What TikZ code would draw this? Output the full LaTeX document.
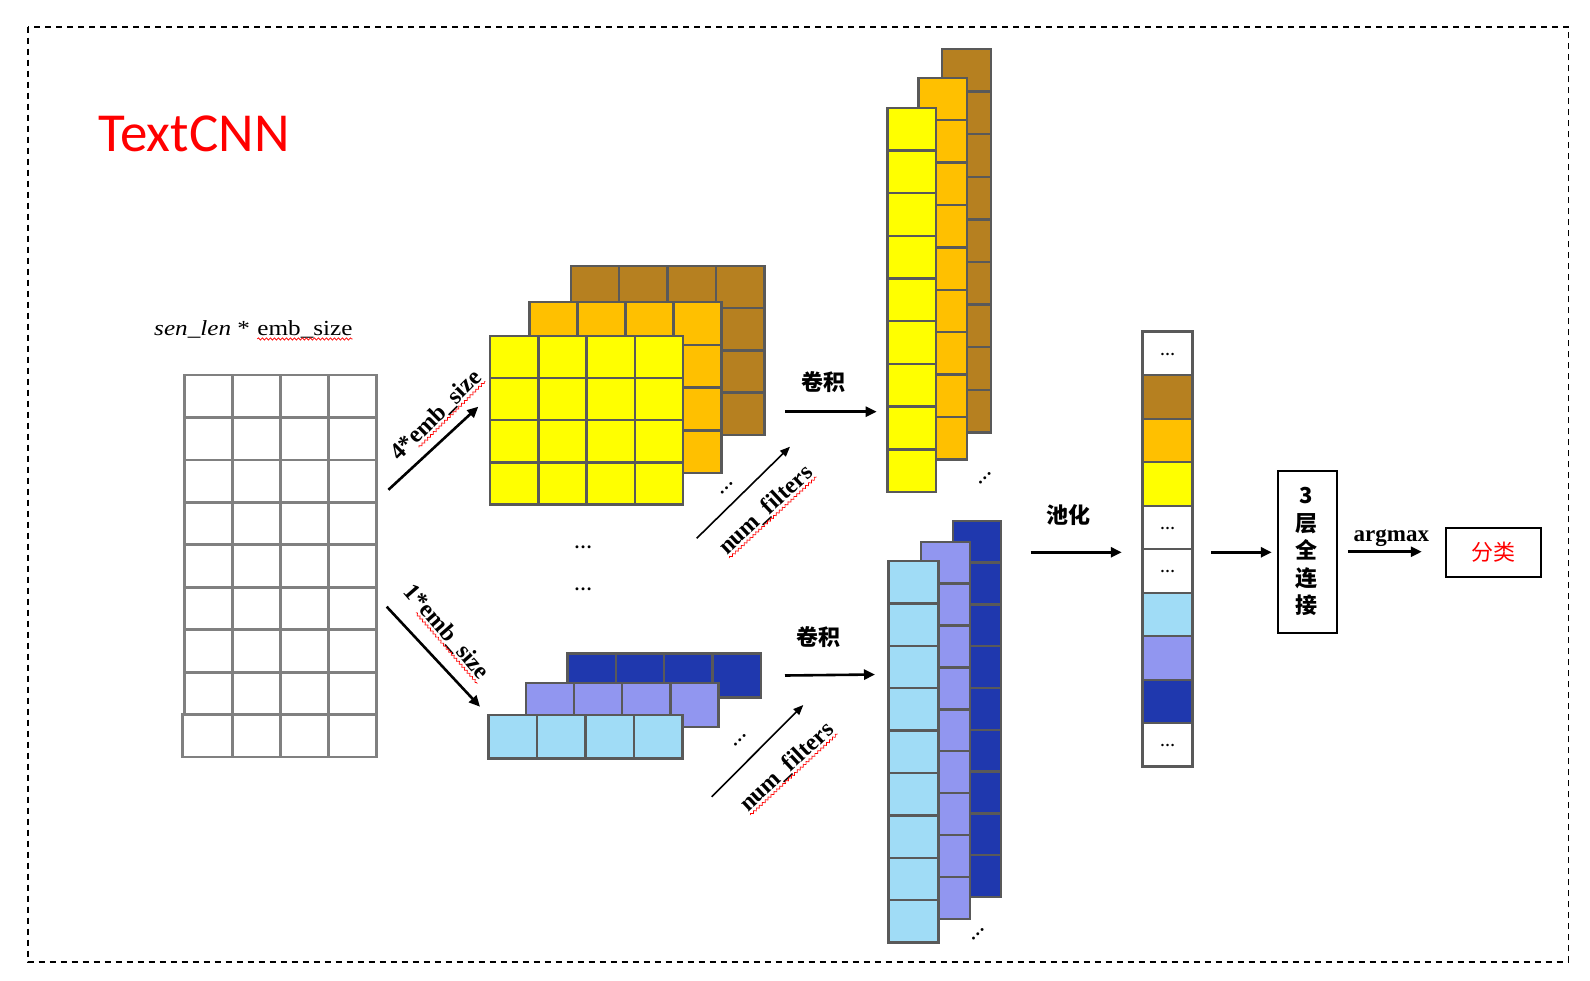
\documentclass[tikz,border=0pt]{standalone}
\usepackage{fontspec}
\setmainfont{Liberation Serif}
\newfontfamily\cjk{Noto Sans CJK SC}
\newfontfamily\titlefont{Carlito}
\usetikzlibrary{arrows.meta,decorations.pathmorphing}
\definecolor{gridgray}{RGB}{128,128,128}
\definecolor{cellgray}{RGB}{89,89,89}
\definecolor{cyellow}{RGB}{255,255,0}
\definecolor{corange}{RGB}{255,192,0}
\definecolor{cbrown}{RGB}{182,128,32}
\definecolor{clight}{RGB}{160,220,246}
\definecolor{clav}{RGB}{145,150,240}
\definecolor{cdark}{RGB}{31,56,174}
\newcommand\cellgrid[7]{%
  \foreach \ci in {1,...,#5}{\foreach \cj in {1,...,#6}{%
    \draw[cell,fill=#7] ({#1+(\ci-1)*#3},{#2+(\cj-1)*#4}) rectangle ++(#3,#4);}}}
\tikzset{
  gridcell/.style={draw=gridgray, line width=2.8pt, fill=white},
  cell/.style={draw=cellgray, line width=2.4pt},
  arr/.style={-{Triangle[length=11pt,width=10pt]}, line width=2.6pt},
  thinarr/.style={-{Triangle[length=10pt,width=8pt]}, line width=1.6pt},
  wavy/.style={draw=red, decorate, decoration={snake, amplitude=1.1pt, segment length=4pt}, line width=0.7pt},
  blbl/.style={font=\fontsize{24}{24}\selectfont\bfseries, inner sep=0pt},
  cjkl/.style={font=\cjk\bfseries\fontsize{22}{22}\selectfont, inner sep=0pt},
  dotsl/.style={font=\fontsize{18}{18}\selectfont\bfseries, inner sep=0pt},
  pdots/.style={font=\fontsize{15}{15}\selectfont\bfseries, inner sep=0pt},
  blackbox/.style={draw=black, line width=2pt, inner sep=0pt},
}
\begin{document}
\begin{tikzpicture}[x=1pt,y=-1pt]
\useasboundingbox (0,0) rectangle (1590,980);
% border
\draw[line width=1.6pt, dash pattern=on 6pt off 5pt] (27.7,26.7) rectangle (1568.3,961.7);
% title
\node[font=\titlefont\fontsize{55}{55}\selectfont, text=red, anchor=base, inner sep=0pt] (title) at (194,151.7) {TextCNN};

% sen_len label
\begin{scope}[shift={(154,335)}, xscale=1.17, transform shape]
\node[anchor=base west, inner sep=0pt, font=\fontsize{21.5}{21.5}\selectfont] (sl1) at (0,0) {\textit{sen\_len}\hspace{0.25em}*};
\node[anchor=base west, inner sep=0pt, font=\fontsize{21.5}{21.5}\selectfont] (sl2) at ([xshift=6pt]sl1.base east) {emb\_size};
\end{scope}
\draw[wavy] ([yshift=-1pt]sl2.south west) -- ([yshift=-1pt]sl2.south east);

% left input grid
\foreach \ci in {1,...,4}{\foreach \cj in {1,...,8}{%
  \draw[gridcell] ({184.3+(\ci-1)*48},{375+(\cj-1)*42.45}) rectangle ++(48,42.45);}}
\draw[gridcell] (182.7,714.6) rectangle (232.3,757);
\foreach \ci in {2,...,4}{\draw[gridcell] ({184.3+(\ci-1)*48},714.6) rectangle ++(48,42.4);}

% top 4x4 stack
\cellgrid{570.7}{265.7}{48.4}{42.3}{4}{4}{cbrown}
\cellgrid{529.3}{302}{48}{42.8}{4}{4}{corange}
\cellgrid{490}{336}{48.3}{42.1}{4}{4}{cyellow}

% bottom 4x1 stack
\cellgrid{567.3}{653.3}{48.4}{44}{4}{1}{cdark}
\cellgrid{526}{682.7}{48.1}{44}{4}{1}{clav}
\cellgrid{488.3}{715}{48.5}{43.3}{4}{1}{clight}

\node[dotsl] (dm1) at (583,547) {…};
\node[dotsl] (dm2) at (583,589) {…};

% arrows embedding
\coordinate (a4s) at (388.4,489.8);
\coordinate (a4e) at (478.3,406.7);
\draw[arr] (a4s) -- (a4e);
\coordinate (a1s) at (386.7,606.7);
\coordinate (a1e) at (480,706.7);
\draw[arr] (a1s) -- (a1e);

\begin{scope}[shift={(435,415)}, rotate=45, transform shape]
\node[blbl, anchor=base west] (l4a) at (-58.6,8) {4*};
\node[blbl, anchor=base west] (l4b) at (l4a.base east) {emb\_size};
\end{scope}
\draw[wavy] (l4b.south west) -- (l4b.south east);

\begin{scope}[shift={(447,631)}, rotate=-49, transform shape]
\node[blbl, anchor=base west] (l1a) at (-58.6,8) {1*};
\node[blbl, anchor=base west] (l1b) at (l1a.base east) {emb\_size};
\end{scope}
\draw[wavy] (l1b.south west) -- (l1b.south east);

% num_filters top
\coordinate (n1s) at (696.7,538.3);
\coordinate (n1e) at (790,446.7);
\draw[thinarr] (n1s) -- (n1e);
\begin{scope}[shift={(765,509)}, rotate=43, transform shape]
\node[blbl, anchor=base] (nf1) at (0,8) {num\_filters};
\end{scope}
\draw[wavy] (nf1.south west) -- (nf1.south east);
\node[dotsl, rotate=45] (dt1) at (726.7,488) {…};

% num_filters bottom
\coordinate (n2s) at (711.7,796.7);
\coordinate (n2e) at (803.3,705);
\draw[thinarr] (n2s) -- (n2e);
\begin{scope}[shift={(786,766)}, rotate=43, transform shape]
\node[blbl, anchor=base] (nf2) at (0,8) {num\_filters};
\end{scope}
\draw[wavy] (nf2.south west) -- (nf2.south east);
\node[dotsl, rotate=45] (dt2) at (740,740) {…};

% conv arrows
\node[cjkl] (cv1) at (823,381.7) {卷积};
\coordinate (c1s) at (785,411.7);
\coordinate (c1e) at (876.7,411.7);
\draw[arr] (c1s) -- (c1e);
\node[cjkl] (cv2) at (818,637) {卷积};
\coordinate (c2s) at (785,675.5);
\coordinate (c2e) at (875,674.5);
\draw[arr] (c2s) -- (c2e);

% tall columns top
\cellgrid{941.7}{49}{49.3}{42.6}{1}{9}{cbrown}
\cellgrid{918.3}{77.7}{48.4}{42.4}{1}{9}{corange}
\cellgrid{887.3}{107.7}{48.7}{42.7}{1}{9}{cyellow}
\node[dotsl, rotate=45] (dt3) at (985,478) {…};

% tall columns bottom
\cellgrid{952.7}{520.7}{48.3}{41.8}{1}{9}{cdark}
\cellgrid{921}{541.7}{49}{41.9}{1}{9}{clav}
\cellgrid{888.3}{561}{50}{42.4}{1}{9}{clight}
\node[dotsl, rotate=45] (dt4) at (978,934) {…};

% pooling
\node[cjkl] (pl) at (1068,515) {池化};
\coordinate (p1s) at (1030.7,552.3);
\coordinate (p1e) at (1121.8,552.3);
\draw[arr] (p1s) -- (p1e);

% pooled vector
\foreach \k/\c in {0/white,1/cbrown,2/corange,3/cyellow,4/white,5/white,6/clight,7/clav,8/cdark,9/white}{%
  \draw[cell,fill=\c] (1142.5,{331.7+\k*43.5}) rectangle ++(50,43.5);}
\draw[draw=cellgray, line width=3.2pt] (1142.5,331.7) rectangle (1192.5,766.7);
\foreach \k in {0,4,5,9}{\node[pdots] (pd\k) at (1167.5,{354+\k*43.5}) {…};}

\coordinate (p2s) at (1211,552.3);
\coordinate (p2e) at (1271.8,552.3);
\draw[arr] (p2s) -- (p2e);

% fully connected
\node[blackbox, minimum width=58.9pt, minimum height=162pt] (fc) at (1307.35,551.7) {};
\node[font=\cjk\bfseries\fontsize{22}{27.6}\selectfont, align=center, inner sep=0pt] (fct) at (1306,551.7) {3\\层\\全\\连\\接};

% argmax
\node[font=\fontsize{23}{23}\selectfont\bfseries, inner sep=0pt] (am) at (1391.4,538) {argmax};
\coordinate (m1s) at (1347.9,551.7);
\coordinate (m1e) at (1421.8,551.7);
\draw[arr] (m1s) -- (m1e);

% class
\node[blackbox, minimum width=95.4pt, minimum height=48.4pt, text=red, font=\cjk\fontsize{22}{22}\selectfont] (cls) at (1493.7,552.5) {分类};
\end{tikzpicture}
\end{document}
